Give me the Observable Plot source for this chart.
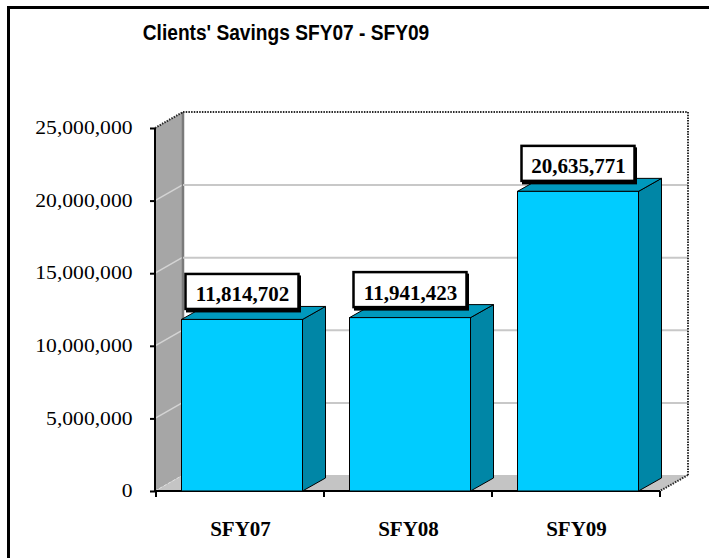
<!DOCTYPE html>
<html>
<head>
<meta charset="utf-8">
<script src="https://cdn.jsdelivr.net/npm/d3@7"></script>
<script src="https://cdn.jsdelivr.net/npm/@observablehq/plot@0.6"></script>
<style>
  html, body { margin: 0; padding: 0; background: #fff; }
  #page { position: relative; width: 709px; height: 558px; overflow: hidden; background: #fff; }
  #frame { position: absolute; left: 7px; top: 6px; width: 800px; height: 700px; border: 3px solid #000; box-sizing: border-box; }
  #title { position: absolute; left: 0; top: 20px; width: 572px; height: 26px; line-height: 26px; text-align: center;
           font-family: "Liberation Sans", Arial, sans-serif; font-weight: bold; font-size: 22px; color: #000;
           transform: scaleX(0.87); transform-origin: 286px 50%; white-space: nowrap; }
  #chart { position: absolute; left: 0; top: 60px; }
</style>
</head>
<body>
<div id="page">
  <div id="frame"></div>
  <div id="title">Clients' Savings SFY07 - SFY09</div>
  <div id="chart"></div>
</div>
<script>
const categories = ["SFY07", "SFY08", "SFY09"];
const savings = [11814702, 11941423, 20635771];
const yTicks = [0, 5000000, 10000000, 15000000, 20000000, 25000000];

const data = categories.map((c, i) => ({cat: c, value: savings[i]}));
const fmt = d3.format(",");

// 3D geometry (pixels)
const DX = 28, DY = -16;     // wall depth
const BDX = 23, BDY = -13;   // bar depth
const INSET = 23.5, SHIFT = 2;

function pts(a) { return a.map(p => p.join(",")).join(" "); }

function bandInfo(scales, dims) {
  const x0 = dims.marginLeft, x1 = dims.width - dims.marginRight;
  const bw = scales.x.bandwidth ? scales.x.bandwidth() : (x1 - x0) / categories.length;
  return {x0, x1, bw};
}

// back wall + left side wall
function walls(index, scales, values, dims) {
  const {x0, x1} = bandInfo(scales, dims);
  const y = scales.y;
  const yb = y(yTicks[0]), yt = y(yTicks[yTicks.length - 1]);
  const g = d3.create("svg:g");
  g.append("polygon").attr("points", pts([[x0 + DX, yt + DY], [x1 + DX, yt + DY], [x1 + DX, yb + DY], [x0 + DX, yb + DY]]))
    .attr("fill", "#fff");
  g.append("polygon").attr("points", pts([[x0, yb], [x0 + DX, yb + DY], [x0 + DX, yt + DY], [x0, yt]]))
    .attr("fill", "#a6a6a6");
  for (const t of yTicks.slice(1, -1)) {
    g.append("line").attr("x1", x0).attr("y1", y(t)).attr("x2", x0 + DX).attr("y2", y(t) + DY)
      .attr("stroke", "#d4d4d4").attr("stroke-width", 1.5);
  }
  g.append("line").attr("x1", x0 + DX).attr("y1", yt + DY).attr("x2", x0 + DX).attr("y2", yb + DY)
    .attr("stroke", "#7a7a7a").attr("stroke-width", 2.5);
  return g.node();
}

// floor, dotted edges, axis lines, boundary ticks
function floor(index, scales, values, dims) {
  const {x0, x1, bw} = bandInfo(scales, dims);
  const y = scales.y;
  const yb = y(yTicks[0]), yt = y(yTicks[yTicks.length - 1]);
  const g = d3.create("svg:g");
  g.append("polygon").attr("points", pts([[x0, yb], [x1, yb], [x1 + DX, yb + DY], [x0 + DX, yb + DY]]))
    .attr("fill", "#c4c4c4");
  g.append("line").attr("x1", x0).attr("y1", yb).attr("x2", x0 + DX).attr("y2", yb + DY)
    .attr("stroke", "#e0e0e0").attr("stroke-width", 1).attr("stroke-dasharray", "3,2");
  const dotted = [[[x0, yt], [x0 + DX, yt + DY]], [[x0 + DX, yt + DY], [x1 + DX, yt + DY]],
                  [[x1 + DX, yt + DY], [x1 + DX, yb + DY]], [[x1 + DX, yb + DY], [x1, yb]]];
  for (const [a, b] of dotted) {
    g.append("line").attr("x1", a[0]).attr("y1", a[1]).attr("x2", b[0]).attr("y2", b[1])
      .attr("stroke", "#2a2a2a").attr("stroke-width", 2).attr("stroke-dasharray", "1.5,1.2");
  }
  g.append("line").attr("x1", x0).attr("y1", yt).attr("x2", x0).attr("y2", yb)
    .attr("stroke", "#000").attr("stroke-width", 2);
  g.append("line").attr("x1", x0).attr("y1", yb).attr("x2", x1).attr("y2", yb)
    .attr("stroke", "#000").attr("stroke-width", 2);
  for (let i = 0; i <= categories.length; i++) {
    const xx = i < categories.length ? scales.x(categories[i]) : scales.x(categories[i - 1]) + bw;
    g.append("line").attr("x1", xx).attr("y1", yb).attr("x2", xx).attr("y2", yb + 6)
      .attr("stroke", "#000").attr("stroke-width", 2);
  }
  return g.node();
}

// bar side and top faces
function barFaces(index, scales, values, dims) {
  const {bw} = bandInfo(scales, dims);
  const y = scales.y;
  const g = d3.create("svg:g");
  for (const d of data) {
    const xl = scales.x(d.cat) + INSET + SHIFT, xr = scales.x(d.cat) + bw - INSET + SHIFT;
    const yT = y(d.value), yB = y(0);
    g.append("polygon").attr("points", pts([[xr, yB], [xr + BDX, yB + BDY], [xr + BDX, yT + BDY], [xr, yT]]))
      .attr("fill", "#0086a6").attr("stroke", "#000").attr("stroke-width", 1);
    g.append("polygon").attr("points", pts([[xl, yT], [xl + BDX, yT + BDY], [xr + BDX, yT + BDY], [xr, yT]]))
      .attr("fill", "#0099bd").attr("stroke", "#000").attr("stroke-width", 1);
  }
  return g.node();
}

// value label boxes
function labelBoxes(index, scales, values, dims) {
  const {bw} = bandInfo(scales, dims);
  const y = scales.y;
  const g = d3.create("svg:g");
  for (const d of data) {
    const cx = scales.x(d.cat) + bw / 2 + SHIFT;
    const yT = y(d.value);
    g.append("rect").attr("x", cx - 56).attr("y", yT - 44).attr("width", 115).attr("height", 37).attr("fill", "#000");
    g.append("rect").attr("x", cx - 56.5).attr("y", yT - 45.5).attr("width", 113).attr("height", 35)
      .attr("fill", "#fff").attr("stroke", "#000").attr("stroke-width", 2.5);
  }
  return g.node();
}

const chart = Plot.plot({
  width: 709,
  height: 498,
  marginLeft: 155,
  marginRight: 49,
  marginTop: 68,
  marginBottom: 67,
  style: {background: "transparent", overflow: "visible"},
  x: {type: "band", domain: categories, padding: 0, label: null},
  y: {domain: [0, 25000000], label: null},
  marks: [
    walls,
    Plot.ruleY(yTicks.slice(1, -1), {dx: DX, dy: DY, stroke: "#c8c8c8", strokeWidth: 2}),
    floor,
    barFaces,
    Plot.barY(data, {x: "cat", y: "value", fill: "#00ccff", stroke: "#000", strokeWidth: 1,
                     insetLeft: INSET, insetRight: INSET, dx: SHIFT}),
    labelBoxes,
    Plot.text(data, {x: "cat", y: "value", text: d => fmt(d.value), dx: SHIFT, dy: -18.5, lineAnchor: "bottom",
                     fontSize: 21, fontWeight: "bold", fontFamily: "Liberation Serif, Times New Roman, serif", fill: "#000"}),
    Plot.axisY(yTicks, {tickSize: 5, tickPadding: 18, tickFormat: fmt, fontSize: 18, strokeWidth: 2, label: null,
                        fontFamily: "Liberation Serif, Times New Roman, serif", fill: "#000", stroke: "#000"}),
    Plot.axisX({tickSize: 0, tickPadding: 30, fontSize: 21, fontWeight: "bold", label: null,
                fontFamily: "Liberation Serif, Times New Roman, serif", fill: "#000"})
  ]
});
document.getElementById("chart").appendChild(chart);

// widen y tick labels as in the reference
d3.select(chart).selectAll('g[aria-label="y-axis tick label"] text').each(function() {
  const len = this.getComputedTextLength();
  this.setAttribute("textLength", len * 1.2);
  this.setAttribute("lengthAdjust", "spacingAndGlyphs");
});
</script>
</body>
</html>
